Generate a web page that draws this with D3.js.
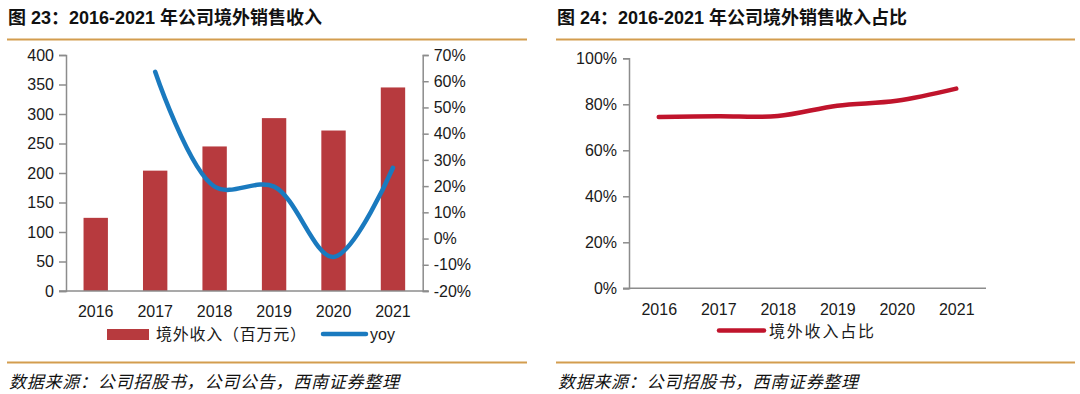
<!DOCTYPE html>
<html><head><meta charset="utf-8">
<script src="https://cdn.jsdelivr.net/npm/d3@7"></script>
<style>
html,body{margin:0;padding:0;background:#fff;}
svg{display:block;}
</style></head>
<body>
<svg id="c" width="1080" height="394"></svg>
<script>
const years = ["2016","2017","2018","2019","2020","2021"];
const overseasRevenue = [124, 204, 245, 293, 272, 345];
const yoy = [null, 63.6, 19.8, 19.8, -7.0, 27.0];
const overseasShare = [74.5, 74.8, 74.9, 79.4, 81.5, 86.8];
const leftTicks = [0,50,100,150,200,250,300,350,400];
const rightTicks = [-20,-10,0,10,20,30,40,50,60,70];
const shareTicks = [0,20,40,60,80,100];

const svg = d3.select("#c");
const font = "'Liberation Sans', Arial, sans-serif";
const cjk = "'Noto Sans CJK SC', sans-serif";
const titleFont = "'Liberation Sans', 'Noto Sans CJK SC', sans-serif";
const axisColor = "#8c8c8c";
const gold = "#d39d4f";

const titles = [
  {x:8, text:"图 23：2016-2021 年公司境外销售收入", x1:7, x2:527, sx:9, sl:390, src:"数据来源：公司招股书，公司公告，西南证券整理"},
  {x:557, text:"图 24：2016-2021 年公司境外销售收入占比", x1:556, x2:1075, sx:558, sl:300, src:"数据来源：公司招股书，西南证券整理"}
];
titles.forEach(t=>{
  svg.append("text").attr("x",t.x).attr("y",24).text(t.text)
    .attr("font-family",titleFont).attr("font-weight","bold").attr("font-size",18).attr("fill","#111");
  svg.append("line").attr("x1",t.x1).attr("x2",t.x2).attr("y1",39.5).attr("y2",39.5)
    .attr("stroke",gold).attr("stroke-width",2.2);
  svg.append("line").attr("x1",t.x1).attr("x2",t.x2).attr("y1",362.5).attr("y2",362.5)
    .attr("stroke",gold).attr("stroke-width",2.2);
  svg.append("text").attr("x",t.sx).attr("y",388).text(t.src)
    .attr("font-family",cjk).attr("font-style","italic").attr("font-size",17).attr("fill","#111")
    .attr("textLength",t.sl).attr("lengthAdjust","spacing");
});

// ---------- Left chart ----------
const L = {left:66, right:422.7, top:55, bottom:291};
const x1 = d3.scaleBand().domain(years).range([L.left, L.right]).paddingInner(0.59).paddingOuter(0.295);
const yL = d3.scaleLinear().domain([0,400]).range([L.bottom, L.top]);
const yR = d3.scaleLinear().domain([-20,70]).range([L.bottom, L.top]);

const g1 = svg.append("g");
g1.selectAll("rect.bar").data(overseasRevenue).join("rect")
  .attr("x",(d,i)=>x1(years[i])).attr("width",x1.bandwidth())
  .attr("y",d=>yL(d)).attr("height",d=>yL(0)-yL(d))
  .attr("fill","#b73a3e");

function styleAxis(g){
  g.selectAll("path.domain").attr("stroke",axisColor).attr("stroke-width",1.5);
  g.selectAll(".tick line").attr("stroke",axisColor).attr("stroke-width",1.5);
  g.selectAll(".tick text").attr("font-family",font).attr("font-size",16).attr("fill","#1a1a1a");
}
const axL = g1.append("g").attr("transform",`translate(${L.left},0)`)
  .call(d3.axisLeft(yL).tickValues(leftTicks).tickSizeOuter(0).tickSize(7).tickPadding(5));
styleAxis(axL);
const axR = g1.append("g").attr("transform",`translate(${L.right},0)`)
  .call(d3.axisRight(yR).tickValues(rightTicks).tickFormat(d=>d+"%").tickSizeOuter(0).tickSize(6).tickPadding(5));
styleAxis(axR);
const axB = g1.append("g").attr("transform",`translate(0,${L.bottom})`)
  .call(d3.axisBottom(x1).tickSize(0).tickPadding(15));
styleAxis(axB);
axB.select("path.domain").attr("d",`M${L.left-7},0H${L.right+6}`);

const lineYoy = d3.line().defined(d=>d.v!==null)
  .x(d=>x1(d.y)+x1.bandwidth()/2).y(d=>yR(d.v)).curve(d3.curveCatmullRom.alpha(0.5));
g1.append("path").datum(years.map((y,i)=>({y, v:yoy[i]})))
  .attr("d",lineYoy).attr("fill","none").attr("stroke","#1a7abf").attr("stroke-width",4.5)
  .attr("stroke-linecap","round");

// legend left
g1.append("rect").attr("x",107).attr("y",329).attr("width",42).attr("height",11).attr("fill","#b73a3e");
g1.append("text").attr("x",156).attr("y",340).text("境外收入（百万元）")
  .attr("font-family",cjk).attr("font-size",16).attr("fill","#1a1a1a")
  .attr("textLength",150).attr("lengthAdjust","spacing");
g1.append("line").attr("x1",323).attr("x2",366).attr("y1",334).attr("y2",334)
  .attr("stroke","#1a7abf").attr("stroke-width",4.5).attr("stroke-linecap","round");
g1.append("text").attr("x",370).attr("y",340).text("yoy")
  .attr("font-family",font).attr("font-size",16).attr("fill","#1a1a1a");

// ---------- Right chart ----------
const R = {left:629, right:986, top:58.3, bottom:288.3};
const x2 = d3.scalePoint().domain(years).range([R.left, R.right]).padding(0.5);
const y2 = d3.scaleLinear().domain([0,100]).range([R.bottom, R.top]);
const g2 = svg.append("g");
const ax2L = g2.append("g").attr("transform",`translate(${R.left},0)`)
  .call(d3.axisLeft(y2).tickValues(shareTicks).tickFormat(d=>d+"%").tickSizeOuter(0).tickSize(6).tickPadding(6));
styleAxis(ax2L);
const ax2B = g2.append("g").attr("transform",`translate(0,${R.bottom})`)
  .call(d3.axisBottom(x2).tickSize(0).tickPadding(15));
styleAxis(ax2B);
ax2B.select("path.domain").attr("d",`M${R.left-6},0H${R.right}`);

const lineShare = d3.line().x((d,i)=>x2(years[i])).y(d=>y2(d)).curve(d3.curveCatmullRom.alpha(0.5));
g2.append("path").datum(overseasShare).attr("d",lineShare)
  .attr("fill","none").attr("stroke","#c0142c").attr("stroke-width",4.5).attr("stroke-linecap","round");

g2.append("line").attr("x1",719).attr("x2",764).attr("y1",330.5).attr("y2",330.5)
  .attr("stroke","#c0142c").attr("stroke-width",4.5).attr("stroke-linecap","round");
g2.append("text").attr("x",769).attr("y",337).text("境外收入占比")
  .attr("font-family",cjk).attr("font-size",16).attr("fill","#1a1a1a")
  .attr("textLength",105).attr("lengthAdjust","spacing");
</script>
</body></html>
